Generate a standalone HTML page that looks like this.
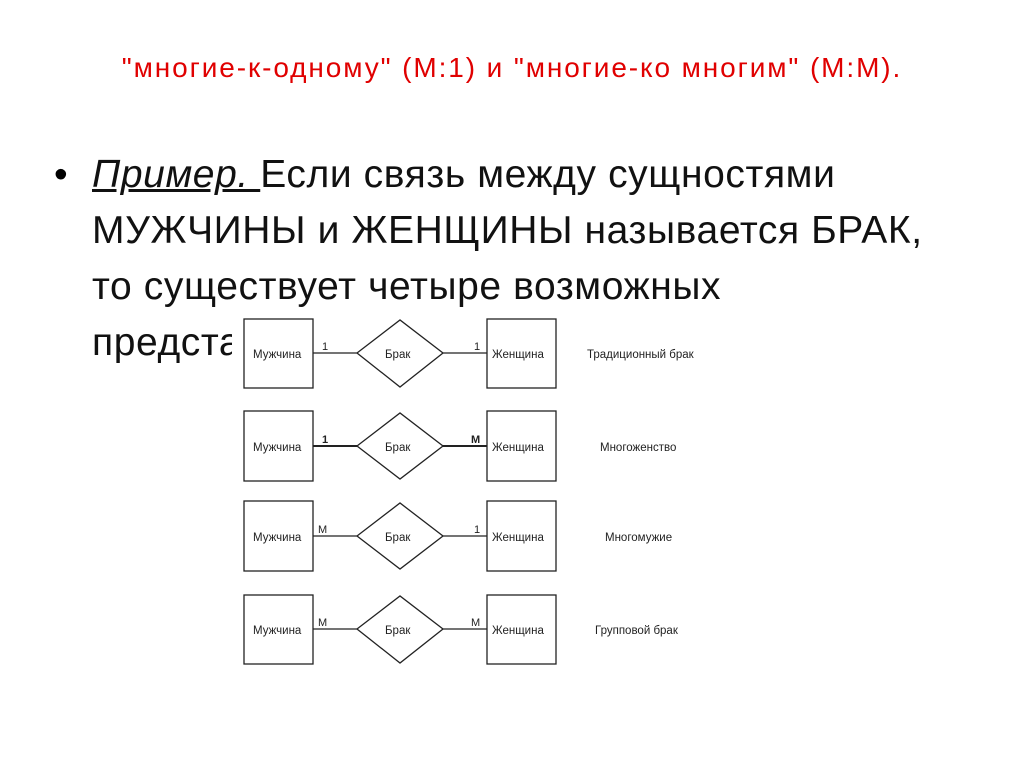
<!DOCTYPE html>
<html><head><meta charset="utf-8"><style>
html,body{margin:0;padding:0;background:#fff;}
body{width:1024px;height:767px;position:relative;overflow:hidden;font-family:"Liberation Sans",sans-serif;}
.title{position:absolute;top:52px;left:0;width:1024px;text-align:center;color:#e00000;font-size:28px;letter-spacing:1.9px;white-space:nowrap;}
.body{position:absolute;left:92px;top:147px;width:930px;font-size:39px;line-height:56px;color:#111;letter-spacing:0.6px;white-space:nowrap;}
.bullet{position:absolute;left:54px;top:147px;font-size:39px;line-height:56px;}
svg{position:absolute;left:0;top:0;}
</style></head><body>
<div class="title">"многие-к-одному" (М:1) и "многие-ко многим" (М:М).</div>
<div class="bullet">•</div>
<div class="body"><i><u>Пример. </u></i>Если связь между сущностями<br>МУЖЧИНЫ и ЖЕНЩИНЫ называется БРАК,<br>то существует четыре возможных<br>представления:</div>
<svg width="1024" height="767" font-family="Liberation Sans, sans-serif" font-size="12" fill="#222">
<rect x="232" y="312" width="470" height="370" fill="#fff"/>
<g stroke="#222" stroke-width="1.3" fill="none">
<rect x="244" y="319" width="69" height="69"/><rect x="487" y="319" width="69" height="69"/>
<polygon points="357,353 400,320 443,353 400,387"/>
<line x1="313" y1="353" x2="357" y2="353"/><line x1="443" y1="353" x2="487" y2="353"/>
<rect x="244" y="411" width="69" height="70"/><rect x="487" y="411" width="69" height="70"/>
<polygon points="357,446 400,413 443,446 400,479"/>
<line x1="313" y1="446" x2="357" y2="446" stroke-width="2"/><line x1="443" y1="446" x2="487" y2="446" stroke-width="2"/>
<rect x="244" y="501" width="69" height="70"/><rect x="487" y="501" width="69" height="70"/>
<polygon points="357,536 400,503 443,536 400,569"/>
<line x1="313" y1="536" x2="357" y2="536"/><line x1="443" y1="536" x2="487" y2="536"/>
<rect x="244" y="595" width="69" height="69"/><rect x="487" y="595" width="69" height="69"/>
<polygon points="357,629 400,596 443,629 400,663"/>
<line x1="313" y1="629" x2="357" y2="629"/><line x1="443" y1="629" x2="487" y2="629"/>
</g>
<g font-size="11.5">
<text x="253" y="358">Мужчина</text><text x="385" y="358">Брак</text><text x="492" y="358">Женщина</text>
<text x="253" y="451">Мужчина</text><text x="385" y="451">Брак</text><text x="492" y="451">Женщина</text>
<text x="253" y="541">Мужчина</text><text x="385" y="541">Брак</text><text x="492" y="541">Женщина</text>
<text x="253" y="634">Мужчина</text><text x="385" y="634">Брак</text><text x="492" y="634">Женщина</text>
<text x="587" y="358">Традиционный брак</text>
<text x="600" y="451">Многоженство</text>
<text x="605" y="541">Многомужие</text>
<text x="595" y="634">Групповой брак</text>
</g>
<g font-size="11">
<text x="322" y="350">1</text><text x="474" y="350">1</text>
<text x="322" y="443" font-weight="bold">1</text><text x="471" y="443" font-weight="bold">M</text>
<text x="318" y="533">M</text><text x="474" y="533">1</text>
<text x="318" y="626">M</text><text x="471" y="626">M</text>
</g>
</svg>
</body></html>
